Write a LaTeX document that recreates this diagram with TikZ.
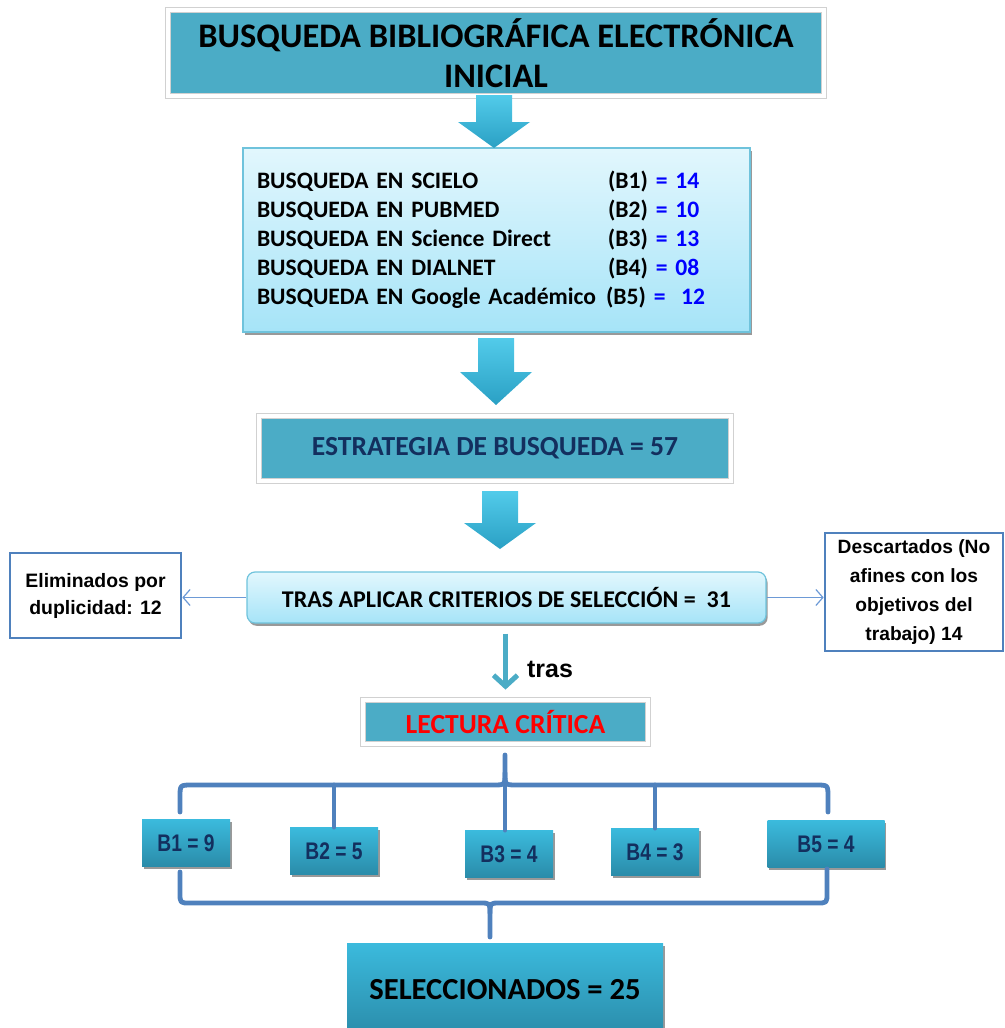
\documentclass[tikz,border=0pt]{standalone}
\usepackage{fontspec}
\setmainfont{Carlito}
\newfontfamily\arialfont{Liberation Sans}
\newfontfamily\narrowfont[FakeStretch=0.8]{Liberation Sans}
\usepackage{xcolor}
\usetikzlibrary{calc,arrows.meta,shadows}
\definecolor{boxteal}{HTML}{4BACC6}
\definecolor{lighttop}{HTML}{E2F7FD}
\definecolor{lightbot}{HTML}{A6E4F8}
\definecolor{lightedge}{HTML}{6FC3DC}
\definecolor{btop}{HTML}{3BBADD}
\definecolor{bbot}{HTML}{2A8BA9}
\definecolor{arrtop}{HTML}{52CBEA}
\definecolor{arrbot}{HTML}{2AA0C4}
\definecolor{navy}{HTML}{132F5E}
\definecolor{brace}{HTML}{4F81BD}
\definecolor{thin}{HTML}{6D9AD6}
\definecolor{numblue}{HTML}{0000FF}
\definecolor{critred}{HTML}{FF0000}
\tikzset{
  shad/.style={drop shadow={shadow xshift=0.8pt, shadow yshift=-1.4pt, opacity=0.4, fill=black}},
  framed/.style={fill=boxteal, draw=black!18, line width=0.4pt, double=white, double distance=2.2pt, shad, inner sep=0pt, align=center},
  light/.style={top color=lighttop, bottom color=lightbot, draw=lightedge, line width=0.6pt, shad, inner sep=0pt},
  bbox/.style={top color=btop, bottom color=bbot, draw=none, shad, minimum width=44pt, minimum height=23.5pt, text=navy, font=\narrowfont\bfseries\fontsize{12}{14}\selectfont},
  side/.style={draw=brace, line width=1.3pt, fill=white, align=center, font=\arialfont\bfseries\fontsize{9.7}{13.5}\selectfont, inner sep=0pt},
  brc/.style={draw=brace, line width=2.4pt, line cap=round, line join=round},
  link/.style={draw=thin, line width=0.6pt, -{Straight Barb[length=3.5pt,width=8pt]}},
  trasarr/.style={draw=boxteal, line width=2.5pt, -{Straight Barb[length=5.5pt,width=12pt]}},
}
\begin{document}
\begin{tikzpicture}[x=0.5pt,y=-0.5pt]
  \useasboundingbox (0,0) rectangle (1005,1028);

  \node[framed, minimum width=328pt, minimum height=43pt, font=\bfseries\fontsize{17.2}{20}\selectfont] (ini) at (496,53) {BUSQUEDA BIBLIOGRÁFICA ELECTRÓNICA\\INICIAL};

  \node[light, minimum height=92pt, text width=239.5pt, inner xsep=7pt, align=left, font=\bfseries\fontsize{11.8}{14.5}\selectfont] (bases) at (496.5,240) {%
    \makebox[175.5pt][l]{BUSQUEDA EN SCIELO}(B1) \textcolor{numblue}{= 14}\\
    \makebox[175.5pt][l]{BUSQUEDA EN PUBMED}(B2) \textcolor{numblue}{= 10}\\
    \makebox[175.5pt][l]{BUSQUEDA EN Science Direct}(B3) \textcolor{numblue}{= 13}\\
    \makebox[175.5pt][l]{BUSQUEDA EN DIALNET}(B4) \textcolor{numblue}{= 08}\\
    \makebox[174.5pt][l]{BUSQUEDA EN Google Académico}(B5) \textcolor{numblue}{=\ \ 12}};

  \node[framed, minimum width=236pt, minimum height=32.5pt, text=navy, font=\bfseries\fontsize{13.8}{17}\selectfont] (estr) at (495,448.5) {ESTRATEGIA DE BUSQUEDA = 57};

  \node[light, rounded corners=4pt, minimum width=259.5pt, minimum height=25.5pt, font=\bfseries\fontsize{12}{14}\selectfont] (crit) at (506.5,597.5) {TRAS APLICAR CRITERIOS DE SELECCIÓN =\ \ 31};

  \node[side, minimum width=85.5pt, minimum height=42.5pt] (elim) at (95.5,595.5) {Eliminados por\\duplicidad: 12};
  \node[side, minimum width=89pt, minimum height=59pt, font=\arialfont\bfseries\fontsize{9.6}{14.5}\selectfont] (desc) at (914,592) {Descartados (No\\afines con los\\objetivos del\\trabajo) 14};

  \draw[link] (crit.west) -- (crit.west -| elim.east);
  \draw[link] (crit.east) -- (crit.east -| desc.west);

  \node[framed, minimum width=142.5pt, minimum height=22pt, text=critred, font=\bfseries\fontsize{13.8}{16}\selectfont] (lect) at (505.5,722) {LECTURA CRÍTICA};

  \draw[trasarr, shorten <=5pt, shorten >=5pt] (crit.south -| lect.north) -- (lect.north);
  \node[anchor=west, font=\arialfont\bfseries\fontsize{12.5}{15}\selectfont] (traslbl) at (520,669) {tras};

  % resultados por base
  \node[bbox] (b1) at (186,843) {B1 = 9};
  \node[bbox] (b2) at (334,851) {B2 = 5};
  \node[bbox] (b3) at (509,854) {B3 = 4};
  \node[bbox] (b4) at (655,852) {B4 = 3};
  \node[bbox, minimum width=58.5pt] (b5) at (826,844) {B5 = 4};

  \coordinate (tip) at (505,755);
  \coordinate (bar) at (505,785);
  \draw[brc] (180,812) -- (180,797) .. controls (180,785) .. (192,785) -- (493,785) .. controls (505,785) .. (505,773) -- (tip);
  \draw[brc] (505,773) .. controls (505,785) .. (517,785) -- (816,785) .. controls (828,785) .. (828,797) -- (828,812);
  \draw[brc] (b2.north |- bar) -- (b2.north);
  \draw[brc] (bar) -- (bar |- b3.north);
  \draw[brc] (b4.north |- bar) -- (b4.north);

  \draw[brc] (180,872) -- (180,893) .. controls (180,903) .. (190,903) -- (480,903) .. controls (490,903) .. (490,913) -- (490,937);
  \draw[brc] (490,913) .. controls (490,903) .. (500,903) -- (817,903) .. controls (827,903) .. (827,893) -- (827,869);

  \node[bbox, minimum width=158pt, minimum height=47pt, text=black, font=\bfseries\fontsize{15.3}{18}\selectfont] (sel) at (505,990) {SELECCIONADOS = 25};

  % flechas de bloque
  \foreach \cx/\ty/\my/\by in {494/95/122/148, 496/338/372/405, 500/491/523/549}{
    \shade[top color=arrtop, bottom color=arrbot] (\cx-18,\ty) -- (\cx+18,\ty) -- (\cx+18,\my) -- (\cx+36,\my) -- (\cx,\by) -- (\cx-36,\my) -- (\cx-18,\my) -- cycle;
  }
\end{tikzpicture}
\end{document}
